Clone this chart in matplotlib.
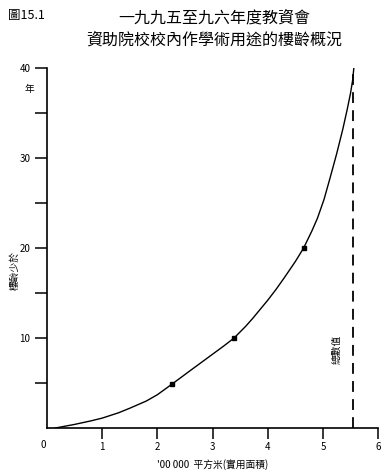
import numpy as np
import matplotlib.pyplot as plt

plt.rcParams['font.family'] = ['Noto Sans CJK TC', 'DejaVu Sans']

# curve (area '00 000 m2 vs building age in years)
area = [0.15, 0.5, 0.8, 1.0, 1.3, 1.5, 1.8, 2.0, 2.27, 2.6, 2.8, 3.0, 3.2,
        3.39, 3.6, 3.73, 4.0, 4.15, 4.3, 4.5, 4.65, 4.8, 4.9, 5.02, 5.13,
        5.25, 5.36, 5.44, 5.5, 5.54, 5.56]
age = [0, 0.4, 0.8, 1.1, 1.7, 2.2, 3.0, 3.7, 4.9, 6.4, 7.3, 8.2, 9.1,
       10, 11.3, 12.2, 14.2, 15.4, 16.7, 18.5, 20, 21.9, 23.3, 25.4, 27.8,
       30.5, 33.2, 35.4, 37.2, 38.7, 40]

# marked points
mark_area = [2.27, 3.39, 4.65]
mark_age = [4.9, 10, 20]

total_area = 5.55

x_ticks = [1, 2, 3, 4, 5, 6]
y_major = [10, 20, 30, 40]
y_minor = [5, 15, 25, 35]

fig = plt.figure(figsize=(3.9, 4.73), dpi=100)
ax = fig.add_axes([0.1205, 0.0951, 0.849, 0.761])

ax.plot(area, age, color='black', lw=1.0)
ax.plot(mark_area, mark_age, 's', color='black', ms=3.5)
ax.plot([total_area, total_area], [0, 40], color='black', lw=1.3,
        dashes=(6, 4))

ax.set_xlim(0, 6)
ax.set_ylim(0, 40)
ax.spines['top'].set_visible(False)
ax.spines['right'].set_visible(False)
ax.spines['left'].set_linewidth(1.2)
ax.spines['bottom'].set_linewidth(1.2)

ax.set_xticks(x_ticks)
ax.set_xticklabels([str(v) for v in x_ticks], fontsize=7)
ax.set_yticks(y_major)
ax.set_yticklabels([str(v) for v in y_major], fontsize=7)
ax.set_yticks(y_minor, minor=True)
ax.tick_params(axis='both', which='both', direction='out', length=9,
               width=1.1, pad=3)
ax.tick_params(axis='x', length=8, pad=2)

ax.text(-0.02, -1.3, '0', fontsize=7, ha='right', va='top')
ax.text(-0.31, 37.7, '年', fontsize=7, ha='center', va='center')
ax.text(-0.58, 17.5, '樓齡少於', fontsize=7, rotation=90,
        ha='center', va='center')
ax.text(5.24, 8.7, '總數值', fontsize=7, rotation=90,
        ha='center', va='center')
ax.set_xlabel("'00 000  平方米(實用面積)", fontsize=7, labelpad=5)

fig.text(0.02, 0.968, '圖15.1', fontsize=9, ha='left', va='center')
fig.text(0.55, 0.962, '一九九五至九六年度教資會', fontsize=11.5,
         ha='center', va='center')
fig.text(0.55, 0.915, '資助院校校內作學術用途的樓齡概況', fontsize=11.5,
         ha='center', va='center')

fig.savefig('out.png', dpi=100)
